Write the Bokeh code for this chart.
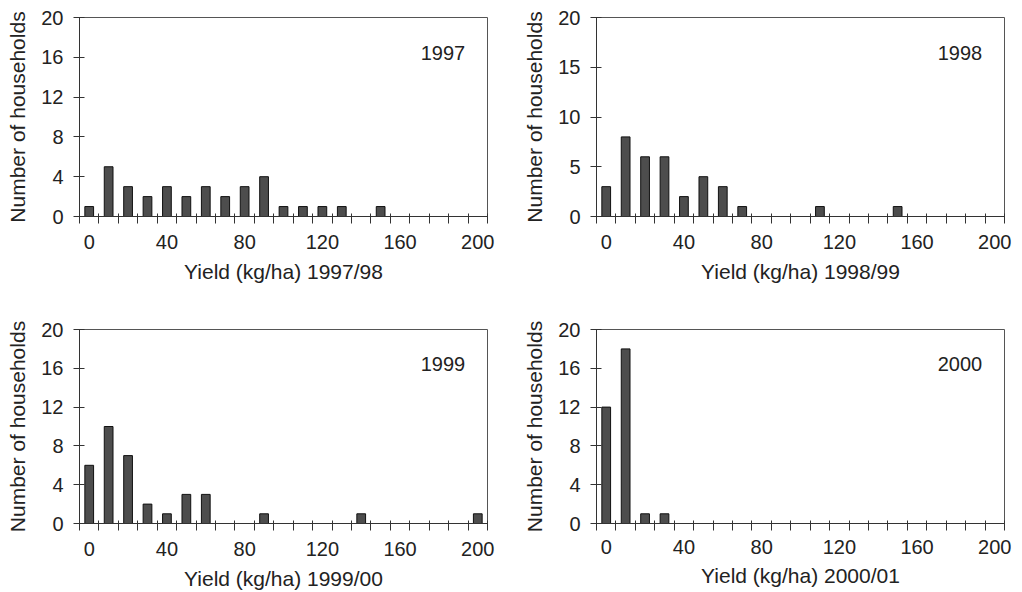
from bokeh.plotting import figure
from bokeh.layouts import column, row
from bokeh.models import FixedTicker, Label, Range1d, ColumnDataSource
from bokeh.embed import file_html
from bokeh.resources import INLINE

# yield classes (kg/ha)
yield_classes = [0, 10, 20, 30, 40, 50, 60, 70, 80, 90, 100,
                 110, 120, 130, 140, 150, 160, 170, 180, 190, 200]
x_tick_labels = [0, 40, 80, 120, 160, 200]

# number of households per yield class
h_1997 = [1, 5, 3, 2, 3, 2, 3, 2, 3, 4, 1, 1, 1, 1, 0, 1, 0, 0, 0, 0, 0]
h_1998 = [3, 8, 6, 6, 2, 4, 3, 1, 0, 0, 0, 1, 0, 0, 0, 1, 0, 0, 0, 0, 0]
h_1999 = [6, 10, 7, 2, 1, 3, 3, 0, 0, 1, 0, 0, 0, 0, 1, 0, 0, 0, 0, 0, 1]
h_2000 = [12, 18, 1, 1, 0, 0, 0, 0, 0, 0, 0, 0, 0, 0, 0, 0, 0, 0, 0, 0, 0]

years = ["1997", "1998", "1999", "2000"]
seasons = ["1997/98", "1998/99", "1999/00", "2000/01"]
y_ticks_a = [0, 4, 8, 12, 16, 20]
y_ticks_b = [0, 5, 10, 15, 20]

FONT = "Liberation Sans"
TXT = "#222222"
AX = "#333333"


def make_panel(counts, year, season, yticks, bl, br, bt, bb, lab_standoff, xlab_standoff):
    p = figure(width=511, height=296, output_backend="svg", toolbar_location=None,
               x_range=Range1d(-5, 205), y_range=Range1d(0, 20),
               min_border_left=bl, min_border_right=br,
               min_border_top=bt, min_border_bottom=bb)
    p.xgrid.visible = False
    p.ygrid.visible = False
    p.outline_line_color = "#555555"
    p.outline_line_width = 1
    p.background_fill_color = "white"
    p.border_fill_color = "white"

    src = ColumnDataSource(dict(x=yield_classes, top=counts))
    p.vbar(x="x", top="top", bottom=0, width=4.5, source=src,
           fill_color="#4d4d4d", line_color="#111111", line_width=1)

    # x axis: labels at class centres, ticks at class boundaries
    bounds = [c - 5 for c in yield_classes] + [yield_classes[-1] + 5]
    xa = p.xaxis[0]
    xa.ticker = FixedTicker(ticks=x_tick_labels, minor_ticks=bounds)
    xa.major_tick_line_color = None
    xa.minor_tick_line_color = AX
    xa.minor_tick_in = 3
    xa.minor_tick_out = 7
    xa.axis_line_color = AX
    xa.major_label_text_font = FONT
    xa.major_label_text_font_size = "20px"
    xa.major_label_text_color = TXT
    xa.major_label_standoff = lab_standoff
    xa.axis_label = "Yield (kg/ha) " + season
    xa.axis_label_text_font = FONT
    xa.axis_label_text_font_size = "21px"
    xa.axis_label_text_font_style = "normal"
    xa.axis_label_text_color = TXT
    xa.axis_label_standoff = xlab_standoff

    ya = p.yaxis[0]
    ya.ticker = FixedTicker(ticks=yticks, minor_ticks=[])
    ya.major_tick_line_color = AX
    ya.major_tick_in = 5
    ya.major_tick_out = 6
    ya.minor_tick_line_color = None
    ya.axis_line_color = AX
    ya.major_label_text_font = FONT
    ya.major_label_text_font_size = "20px"
    ya.major_label_text_color = TXT
    ya.major_label_standoff = 10
    ya.axis_label = "Number of households"
    ya.axis_label_text_font = FONT
    ya.axis_label_text_font_size = "21px"
    ya.axis_label_text_font_style = "normal"
    ya.axis_label_text_color = TXT
    ya.axis_label_standoff = 9

    p.add_layout(Label(x=193.5, y=16.4, text=year, text_align="right",
                       text_baseline="middle", text_font=FONT,
                       text_font_size="20px", text_color=TXT))
    return p


p1 = make_panel(h_1997, years[0], seasons[0], y_ticks_a, 79, 24, 17, 80, 11, 8)
p2 = make_panel(h_1998, years[1], seasons[1], y_ticks_b, 85, 18, 17, 80, 11, 8)
p3 = make_panel(h_1999, years[2], seasons[2], y_ticks_a, 79, 24, 31, 68, 11, 8)
p4 = make_panel(h_2000, years[3], seasons[3], y_ticks_a, 85, 18, 33, 65, 9, 7)

layout = column(row(p1, p2, spacing=0), row(p3, p4, spacing=0), spacing=0)

open("out.html", "w").write(file_html(layout, INLINE))
